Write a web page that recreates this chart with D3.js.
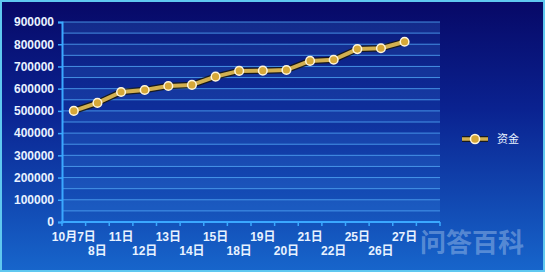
<!DOCTYPE html>
<html>
<head>
<meta charset="utf-8">
<script src="https://cdn.jsdelivr.net/npm/d3@7"></script>
<style>
	html, body {margin: 0; padding: 0; background: #0a0f70;}
	svg {display: block;}
</style>
</head>
<body>
<svg id="chart" width="545" height="272"></svg>
<script>
(function() {
	'use strict';

	// Data.
	var categories = ['10月7日', '8日', '11日', '12日', '13日', '14日', '15日', '18日',
		'19日', '20日', '21日', '22日', '25日', '26日', '27日'];
	var funds = [500000, 536000, 585000, 594000, 612000, 617000, 654000, 680000,
		681000, 684000, 725000, 730000, 778000, 782000, 811000];
	var yTicks = [0, 100000, 200000, 300000, 400000, 500000, 600000, 700000, 800000, 900000];
	var seriesName = '资金';

	var width = 545, height = 272,
			margin = {left: 62, right: 105, top: 22, bottom: 50},
			svg = d3.select('#chart'),
			defs = svg.append('defs');

	var bg = defs.append('linearGradient').attr('id', 'bg')
		.attr('x1', 0).attr('y1', 0).attr('x2', 0).attr('y2', 1);
	bg.append('stop').attr('offset', '0%').attr('stop-color', '#070866');
	bg.append('stop').attr('offset', '40%').attr('stop-color', '#0a2290');
	bg.append('stop').attr('offset', '100%').attr('stop-color', '#1766cc');

	svg.append('rect')
		.attr('x', 0).attr('y', 0)
		.attr('width', width).attr('height', height)
		.attr('fill', 'url(#bg)');
	// Light frame round the picture.
	svg.append('rect')
		.attr('x', 1).attr('y', 1)
		.attr('width', width - 2).attr('height', height - 2)
		.attr('fill', 'none')
		.attr('stroke', '#5fc8f0')
		.attr('stroke-width', 2);

	// One extra empty slot at the end, as in the original.
	var x = d3.scaleBand()
		.domain(categories.concat(['']))
		.range([margin.left, width - margin.right]);
	var y = d3.scaleLinear()
		.domain([0, 900000])
		.range([height - margin.bottom, margin.top]);

	// Alternating bands every 50000.
	var bandSteps = d3.range(0, 900000, 50000);
	svg.append('g').selectAll('rect').data(bandSteps).enter()
		.append('rect')
		.attr('x', margin.left)
		.attr('y', function(d) {return y(d + 50000);})
		.attr('width', width - margin.right - margin.left)
		.attr('height', function(d) {return y(d) - y(d + 50000);})
		.attr('fill', function(d, i) {return i % 2 ? '#3a8ae8' : '#2a70d8';})
		.attr('fill-opacity', function(d, i) {return i % 2 ? 0.24 : 0.15;});

	// Gridlines.
	svg.append('g').selectAll('line').data(d3.range(50000, 950000, 50000)).enter()
		.append('line')
		.attr('x1', margin.left).attr('x2', width - margin.right)
		.attr('y1', function(d) {return y(d);}).attr('y2', function(d) {return y(d);})
		.attr('stroke', '#4fa2f2')
		.attr('stroke-width', 1)
		.attr('stroke-opacity', 0.85);

	// Y axis.
	var yAxis = svg.append('g')
		.attr('transform', 'translate(' + margin.left + ',0)')
		.call(d3.axisLeft(y).tickValues(yTicks).tickSize(4).tickPadding(4)
			.tickFormat(d3.format('d')));
	yAxis.select('.domain').attr('stroke', '#3aa8ff').attr('stroke-width', 2);
	yAxis.selectAll('.tick line').attr('stroke', '#3aa8ff').attr('stroke-width', 1.5);
	yAxis.selectAll('.tick text')
		.attr('fill', '#e8f2ff')
		.style('font', 'bold 12px "Liberation Sans", Arial, sans-serif');

	// X axis: ticks at band edges, labels staggered on two rows.
	var xAxisG = svg.append('g')
		.attr('transform', 'translate(0,' + y(0) + ')');
	xAxisG.append('line')
		.attr('x1', margin.left - 1).attr('x2', width - margin.right)
		.attr('y1', 0).attr('y2', 0)
		.attr('stroke', '#3aa8ff').attr('stroke-width', 2);
	var edges = x.domain().map(function(d) {return x(d);}).concat([x.range()[1]]);
	xAxisG.selectAll('.xtick').data(edges).enter()
		.append('line')
		.attr('class', 'xtick')
		.attr('x1', function(d) {return d;}).attr('x2', function(d) {return d;})
		.attr('y1', 0).attr('y2', 4)
		.attr('stroke', '#3aa8ff').attr('stroke-width', 1.5);
	xAxisG.selectAll('.xlabel').data(categories).enter()
		.append('text')
		.attr('class', 'xlabel')
		.attr('x', function(d) {return x(d) + x.bandwidth() / 2;})
		.attr('y', function(d, i) {return i % 2 ? 33 : 19;})
		.attr('text-anchor', 'middle')
		.attr('fill', '#e8f2ff')
		.style('font', 'bold 12px "Liberation Sans", "Noto Sans CJK SC", sans-serif')
		.text(function(d) {return d;});

	// Series line.
	var line = d3.line()
		.x(function(d, i) {return x(categories[i]) + x.bandwidth() / 2;})
		.y(function(d) {return y(d);});
	svg.append('path')
		.datum(funds)
		.attr('fill', 'none')
		.attr('stroke', '#1a1400')
		.attr('stroke-opacity', 0.8)
		.attr('stroke-width', 6.5)
		.attr('stroke-linejoin', 'round')
		.attr('d', line);
	svg.append('path')
		.datum(funds)
		.attr('fill', 'none')
		.attr('stroke', '#d2b050')
		.attr('stroke-width', 4)
		.attr('stroke-linejoin', 'round')
		.attr('d', line);
	svg.append('g').selectAll('circle').data(funds).enter()
		.append('circle')
		.attr('cx', function(d, i) {return x(categories[i]) + x.bandwidth() / 2;})
		.attr('cy', function(d) {return y(d);})
		.attr('r', 4.3)
		.attr('fill', '#d6a838')
		.attr('stroke', '#fff6dc')
		.attr('stroke-width', 1.5);

	// Legend.
	var legend = svg.append('g').attr('transform', 'translate(462,139)');
	legend.append('line')
		.attr('x1', 0).attr('x2', 26).attr('y1', 0).attr('y2', 0)
		.attr('stroke', '#1a1400').attr('stroke-width', 6).attr('stroke-opacity', 0.8);
	legend.append('line')
		.attr('x1', 0).attr('x2', 26).attr('y1', 0).attr('y2', 0)
		.attr('stroke', '#d2b050').attr('stroke-width', 3.5);
	legend.append('circle')
		.attr('cx', 13).attr('cy', 0).attr('r', 4.5)
		.attr('fill', '#d6a838').attr('stroke', '#fff6dc').attr('stroke-width', 1.5);
	legend.append('text')
		.attr('x', 35).attr('y', 4)
		.attr('fill', '#e8f2ff')
		.style('font', '11px "Noto Sans CJK SC", sans-serif')
		.text(seriesName);

	// Watermark.
	svg.append('text')
		.attr('x', 420).attr('y', 252)
		.attr('fill', '#c0d8f4')
		.attr('fill-opacity', 0.4)
		.style('font', 'bold 26px "Noto Sans CJK SC", sans-serif')
		.text('问答百科');
})();
</script>
</body>
</html>
